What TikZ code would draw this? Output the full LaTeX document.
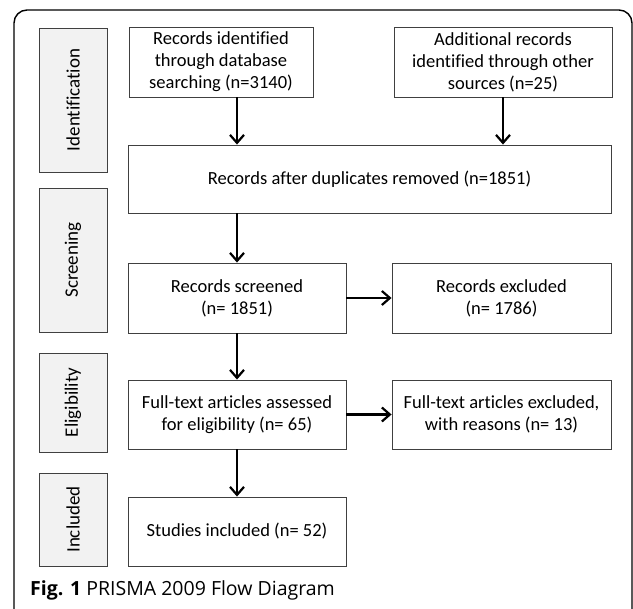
\documentclass[tikz,border=0pt]{standalone}
\usepackage{fontspec}
\setmainfont{Carlito}[Ligatures=NoCommon]
\newfontfamily\capfont{Open Sans}
\usepackage{tikz}
\usetikzlibrary{arrows.meta,positioning}

\tikzset{
  flowbox/.style={draw={rgb,255:red,64;green,64;blue,64}, line width=0.9pt, fill=white,
    align=center, inner sep=2pt, font=\fontsize{18.5}{22}\selectfont},
  phasebox/.style={draw={rgb,255:red,64;green,64;blue,64}, line width=0.9pt,
    fill={rgb,255:red,242;green,242;blue,242}, minimum width=68pt, inner sep=0pt},
  phaselabel/.style={rotate=90, font=\fontsize{19}{22}\selectfont},
  flowarrow/.style={line width=2.2pt, -{Straight Barb[length=8pt,width=14pt,line width=2.2pt]}}
}

\begin{document}
\begin{tikzpicture}[x=1pt,y=1pt,yscale=-1]
\useasboundingbox (0,0) rectangle (633,609);

%Shape: outer frame
\draw [line width=1.4pt, rounded corners=13pt] (14,640) -- (14,10) -- (632,10) -- (632,640);

%Shape: phase boxes
\node [phasebox, minimum height=144pt] (ident) at (73,100) {};
\node [phasebox, minimum height=144pt] (screen) at (73,260) {};
\node [phasebox, minimum height=99pt] (elig) at (73,402.5) {};
\node [phasebox, minimum height=93pt] (incl) at (73,519.5) {};
% Text Node
\node [phaselabel] at (ident) {Identification};
\node [phaselabel] at (screen) {Screening};
\node [phaselabel] at (elig) {Eligibility};
\node [phaselabel] at (incl) {Included};

%Shape: flow boxes
\node [flowbox, minimum width=184pt, minimum height=70pt] (dbsearch) at (221,62) {Records identified\\through database\\searching (n=3140)};
\node [flowbox, minimum width=218pt, minimum height=70pt] (othersrc) at (503,62) {Additional records\\identified through other\\sources (n=25)};
\node [flowbox, minimum width=483pt, minimum height=68pt] (dedup) at (369.5,179) {Records after duplicates removed (n=1851)};
\node [flowbox, minimum width=218pt, minimum height=70pt] (screened) at (237,298) {Records screened\\(n= 1851)};
\node [flowbox, minimum width=219pt, minimum height=70pt] (scrExcl) at (501.5,298) {Records excluded\\(n= 1786)};
\node [flowbox, minimum width=218pt, minimum height=69pt] (fulltext) at (237,414.5) {Full-text articles assessed\\for eligibility (n= 65)};
\node [flowbox, minimum width=219pt, minimum height=69pt] (ftExcl) at (501.5,414.5) {Full-text articles excluded,\\with reasons (n= 13)};
\node [flowbox, minimum width=218pt, minimum height=69pt] (studies) at (237,531.5) {Studies included (n= 52)};

%Straight Lines: arrows
\draw [flowarrow] (dbsearch.south -| 237,0) -- (dedup.north -| 237,0);
\draw [flowarrow] (othersrc.south -| 503,0) -- (dedup.north -| 503,0);
\draw [flowarrow] (dedup.south -| screened) -- (screened.north);
\draw [flowarrow] (screened) -- (scrExcl);
\draw [flowarrow] (screened) -- (fulltext);
\draw [flowarrow] (fulltext) -- (ftExcl);
\draw [flowarrow] (fulltext) -- (studies);

% Text Node: caption
\node [anchor=base west, inner sep=0pt, font=\capfont\fontsize{19.5}{22}\selectfont] (caption) at (30,596) {\textbf{Fig. 1} PRISMA 2009 Flow Diagram};

\end{tikzpicture}
\end{document}
